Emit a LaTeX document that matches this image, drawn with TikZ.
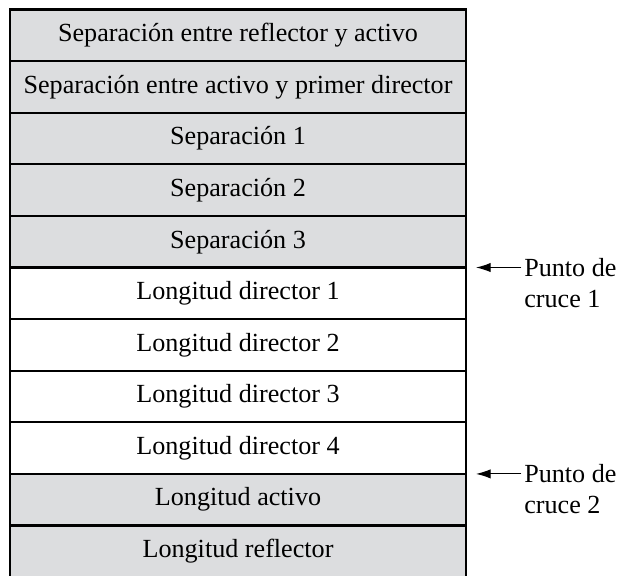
\documentclass[tikz,border=0pt]{standalone}
\usepackage{fontspec}
\setmainfont{Liberation Serif}
\usetikzlibrary{positioning,arrows.meta}
\definecolor{gris}{HTML}{DCDDDF}

\begin{document}
\begin{tikzpicture}[x=0.75pt, y=-0.75pt, font=\fontsize{19.6}{23}\selectfont,
    fila/.style={draw, line width=1.6pt, fill=gris, minimum width=342pt, minimum height=38.7pt, outer sep=0pt, inner sep=0pt},
    blanca/.style={fila, fill=white},
    nota/.style={align=left, inner sep=0pt}]
    \useasboundingbox (0,0) rectangle (623,575);
    \node [fila] (sepra) at (238,35.3) {Separación entre reflector y activo};
    \node [fila, below=0pt of sepra] (sepad) {Separación entre activo y primer director};
    \node [fila, below=0pt of sepad] (sep1) {Separación 1};
    \node [fila, below=0pt of sep1] (sep2) {Separación 2};
    \node [fila, below=0pt of sep2] (sep3) {Separación 3};
    \node [blanca, below=0pt of sep3] (dir1) {Longitud director 1};
    \node [blanca, below=0pt of dir1] (dir2) {Longitud director 2};
    \node [blanca, below=0pt of dir2] (dir3) {Longitud director 3};
    \node [blanca, below=0pt of dir3] (dir4) {Longitud director 4};
    \node [fila, below=0pt of dir4] (act) {Longitud activo};
    \node [fila, below=0pt of act] (refl) {Longitud reflector};
    \coordinate (c1) at ([xshift=7.5pt]sep3.south east);
    \coordinate (c2) at ([xshift=7.5pt]dir4.south east);
    \node [nota, anchor=west] (p1) at (524,283) {Punto de\\cruce 1};
    \node [nota, anchor=west] (p2) at (524,489) {Punto de\\cruce 2};
    \draw [-{Latex[length=11pt,width=7pt]}, line width=0.8pt, shorten <=2pt] (p1.west |- c1) -- (c1);
    \draw [-{Latex[length=11pt,width=7pt]}, line width=0.8pt, shorten <=2pt] (p2.west |- c2) -- (c2);
\end{tikzpicture}
\end{document}
